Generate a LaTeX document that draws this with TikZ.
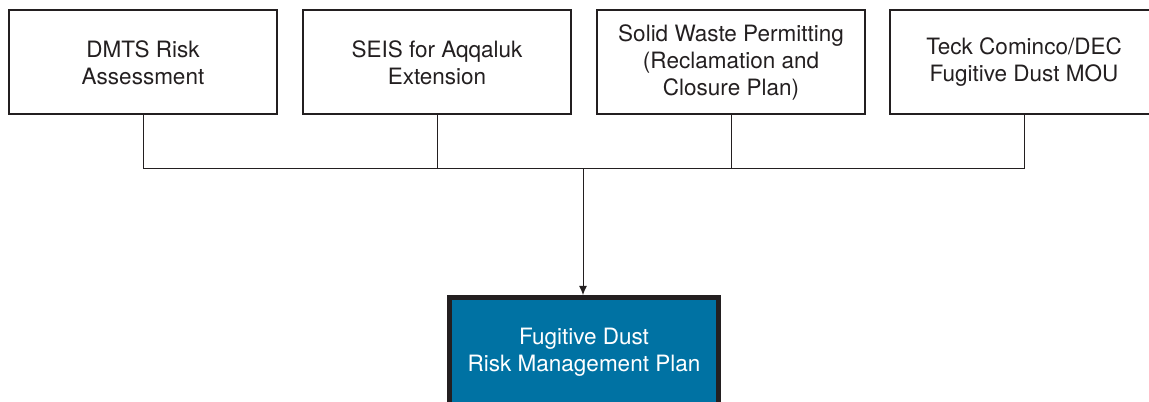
\documentclass[tikz,border=0pt]{standalone}
\usepackage{fontspec}
\setmainfont{TeX Gyre Heros}
\usetikzlibrary{arrows.meta}
\definecolor{inkgray}{HTML}{231F20}
\definecolor{rmpblue}{RGB}{0,114,163}
\begin{document}
\begin{tikzpicture}[>={Latex[length=9bp,width=8bp]},line join=miter,
  srcbox/.style={draw=inkgray,line width=2bp,rectangle,minimum width=268bp,minimum height=104bp,align=center,text=inkgray,font=\fontsize{22.5bp}{27bp}\selectfont},
  planbox/.style={draw=inkgray,fill=rmpblue,line width=5bp,rectangle,minimum width=269bp,minimum height=109bp,align=center,text=white,font=\fontsize{22.5bp}{27bp}\selectfont},
  conn/.style={draw=inkgray,line width=1bp}]
\useasboundingbox (0bp,0bp) rectangle (1149bp,402bp);
%%
\node (dmts) at (143bp,339.5bp) [srcbox] {DMTS Risk\\Assessment};
  \node (seis) at (437bp,339.5bp) [srcbox] {SEIS for Aqqaluk\\Extension};
  \node (waste) at (731bp,339.5bp) [srcbox] {Solid Waste Permitting\\(Reclamation and\\Closure Plan)};
  \node (mou) at (1024bp,339.5bp) [srcbox] {Teck Cominco/DEC\\Fugitive Dust MOU};
  \node (rmp) at (584bp,50bp) [planbox] {Fugitive Dust\\Risk Management Plan};
  \coordinate (aux) at (583bp,233bp);
  \draw [conn] (dmts.south) |- (aux);
  \draw [conn] (mou.south) |- (aux);
  \draw [conn] (seis.south) -- (seis.south |- aux);
  \draw [conn] (waste.south) -- (waste.south |- aux);
  \draw [conn,->] (aux) -- (aux |- rmp.north);
%
\end{tikzpicture}
\end{document}
